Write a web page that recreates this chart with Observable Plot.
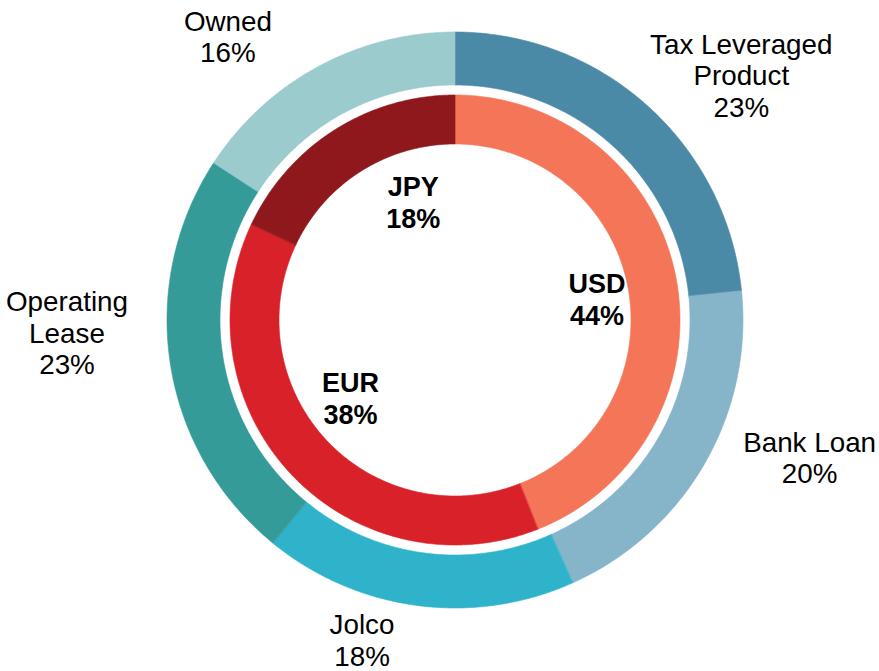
<!DOCTYPE html>
<html>
<head>
<meta charset="utf-8">
<script src="https://cdn.jsdelivr.net/npm/d3@7"></script>
<script src="https://cdn.jsdelivr.net/npm/@observablehq/plot@0.6"></script>
<style>
  html, body { margin: 0; padding: 0; background: #ffffff; }
  #chart { width: 879px; height: 671px; }
</style>
</head>
<body>
<div id="chart"></div>
<script>
// ---- Data ----
const outerCategories = ["Tax Leveraged Product", "Bank Loan", "Jolco", "Operating Lease", "Owned"];
const outerValues = [23.4, 19.9, 17.6, 23.3, 15.8];
const innerCategories = ["USD", "EUR", "JPY"];
const innerValues = [44, 38, 18];

// ---- Styling / layout ----
const outerColors = ["#4a8aa6", "#86b4c9", "#2fb3cb", "#349b98", "#9bcbcd"];
const innerColors = ["#f47557", "#d9212a", "#8f181c"];
const W = 879, H = 671, cx = 455, cy = 320, R = 288;
const rings = {
  outer: {r0: 235 / R, r1: 1, labelR: 1.2},
  inner: {r0: 176 / R, r1: 225 / R, labelR: 0.5}
};
const wrap = {"Tax Leveraged Product": "Tax Leveraged\nProduct", "Operating Lease": "Operating\nLease"};
// pixel nudges of the data labels (Excel-like placement)
const nudge = {
  "Tax Leveraged Product": [54, 11], "Bank Loan": [55, -36], "Jolco": [-48, -23],
  "Operating Lease": [-47, -41], "Owned": [-63, 20],
  "USD": [0, 5], "EUR": [0, -21], "JPY": [35, 3]
};

function ringData(cats, vals, ring) {
  const pie = d3.pie().sort(null).value(d => d.value).startAngle(0).endAngle(2 * Math.PI);
  const arcs = pie(cats.map((c, i) => ({cat: c, value: vals[i]})));
  const total = d3.sum(vals);
  const pts = [], labels = [];
  const step = Math.PI / 360;
  for (const a of arcs) {
    const n = Math.max(2, Math.ceil((a.endAngle - a.startAngle) / step));
    for (let k = 0; k <= n; k++) {
      const t = a.startAngle + (a.endAngle - a.startAngle) * k / n;
      pts.push({
        cat: a.data.cat,
        xo: ring.r1 * Math.sin(t), yo: ring.r1 * Math.cos(t),
        xi: ring.r0 * Math.sin(t), yi: ring.r0 * Math.cos(t)
      });
    }
    const mid = (a.startAngle + a.endAngle) / 2;
    const [ndx, ndy] = nudge[a.data.cat] || [0, 0];
    labels.push({
      cat: a.data.cat,
      x: ring.labelR * Math.sin(mid) + ndx / R,
      y: ring.labelR * Math.cos(mid) - ndy / R,
      text: (wrap[a.data.cat] || a.data.cat) + "\n" + Math.round(a.data.value / total * 100) + "%"
    });
  }
  return {pts, labels};
}

const outer = ringData(outerCategories, outerValues, rings.outer);
const inner = ringData(innerCategories, innerValues, rings.inner);

const font = "'Liberation Sans', Arial, Helvetica, sans-serif";

const chart = Plot.plot({
  width: W,
  height: H,
  margin: 0,
  style: {fontFamily: font, background: "#ffffff", overflow: "visible"},
  x: {type: "linear", domain: [-cx / R, (W - cx) / R], range: [0, W], axis: null},
  y: {type: "linear", domain: [-(H - cy) / R, cy / R], range: [H, 0], axis: null},
  color: {domain: [...outerCategories, ...innerCategories], range: [...outerColors, ...innerColors]},
  marks: [
    Plot.area(outer.pts, {x1: "xo", y1: "yo", x2: "xi", y2: "yi", z: "cat", fill: "cat", stroke: "cat", strokeWidth: 0.6}),
    Plot.area(inner.pts, {x1: "xo", y1: "yo", x2: "xi", y2: "yi", z: "cat", fill: "cat", stroke: "cat", strokeWidth: 0.6}),
    Plot.text(outer.labels, {x: "x", y: "y", text: "text", fontSize: 27.8, lineHeight: 1.13, fill: "#000000", fontFamily: font}),
    Plot.text(inner.labels, {x: "x", y: "y", text: "text", fontSize: 27, lineHeight: 1.18, fill: "#000000", fontWeight: "bold", fontFamily: font})
  ]
});
document.getElementById("chart").appendChild(chart);
</script>
</body>
</html>
